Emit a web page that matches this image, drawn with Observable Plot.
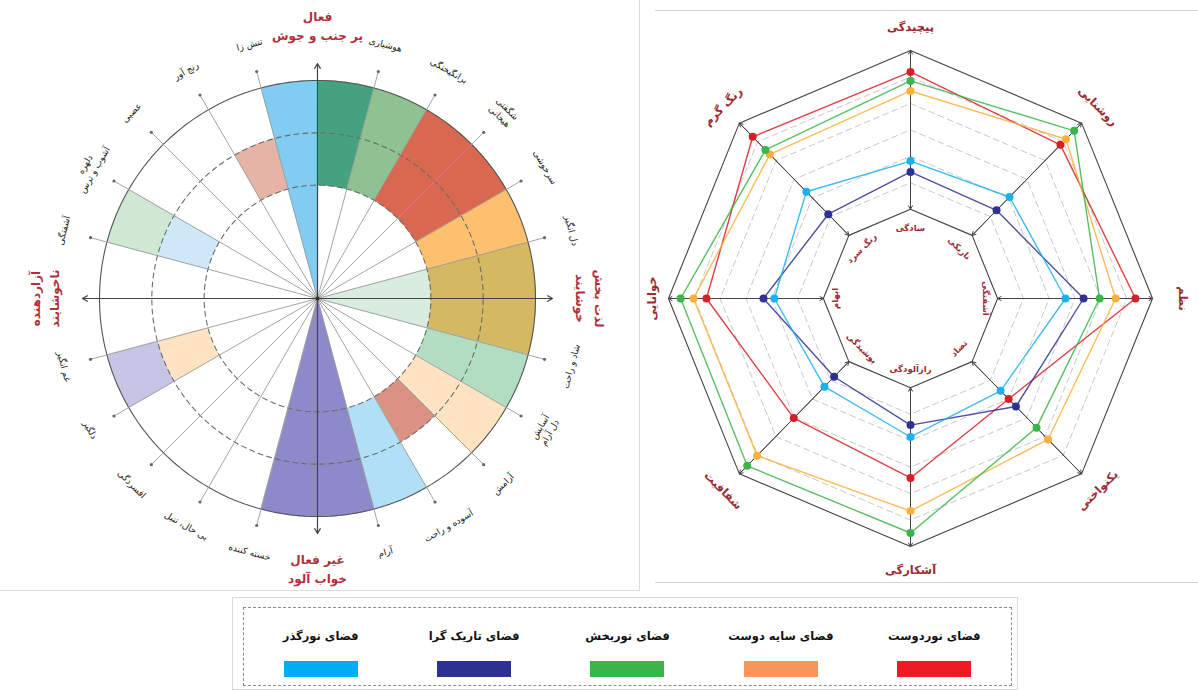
<!DOCTYPE html>
<html><head><meta charset="utf-8">
<script src="https://cdn.jsdelivr.net/npm/d3@7"></script>
<script src="https://cdn.jsdelivr.net/npm/@observablehq/plot@0.6"></script>
<style>
body{margin:0;background:#fff;font-family:"DejaVu Sans",sans-serif;}
#wrap{position:relative;width:1198px;height:690px;overflow:hidden;background:#fff;}
#left{position:absolute;left:0;top:0;}
#right{position:absolute;left:620px;top:0;}
.frameL{position:absolute;left:0;top:0;width:640px;height:591px;border-right:1px solid #dcdcdc;border-bottom:1px solid #dcdcdc;box-sizing:border-box;}
.frameR{position:absolute;left:655px;top:10px;width:543px;height:573px;border-top:1px solid #d6d6d6;border-bottom:1px solid #d6d6d6;box-sizing:border-box;}
#legOuter{position:absolute;left:232px;top:597px;width:786px;height:93px;border:1px solid #d8d8d8;box-sizing:border-box;}
#legend{position:absolute;left:243px;top:607px;width:769px;height:79px;border:1px dashed #8a8a8a;box-sizing:border-box;display:flex;direction:rtl;}
.item{width:155px;display:flex;flex-direction:column;align-items:center;padding-top:20px;}
.item span{font-weight:bold;font-size:11.5px;line-height:16px;height:16px;color:#111;white-space:nowrap;}
.item i{display:block;width:74px;height:16px;margin-top:17px;}
svg text{direction:rtl;unicode-bidi:plaintext;}
</style></head>
<body><div id="wrap">
<div class="frameL"></div><div class="frameR"></div>
<div id="left"></div><div id="right"></div>
<div id="legOuter"></div><div id="legend"></div>
</div>
<script>
// ---------------- DATA: left chart (affect circumplex) ----------------
const spokeAngles = [15, 30, 45, 60, 75, 105, 120, 135, 150, 165, -165, -150, -135, -120, -105, -75, -60, -45, -30, -15];
const spokeLabels = ["دل انگیز", "سرخوشی", "شگفتی\nهیجانی", "برانگیختگی", "هوشیاری", "تنش زا", "رنج آور", "عصبی", "دلهره\nآشوب و ترس", "آشفتگی", "غم انگیز", "دلگیر", "افسردگی", "بی حال، تنبل", "خسته کننده", "آرام", "آسوده و راحت", "آرامش", "آسایش\nدل آرام", "شاد و راحت"];
const axisAngles = [90, 0, -90, 180];
const axisLabels = ["فعال\nپر جنب و جوش", "لذت بخش\nخوشایند", "غیر فعال\nخواب آلود", "آزاردهنده\nناخوشایند"];
const ringLevels = [0, 0.52, 0.76, 1];
const sectorStart = [75, 60, 30, 15, -15, -15, -30, -45, -60, -75, -105, -165, -165, 150, 150, 105, 90];
const sectorEnd   = [90, 75, 60, 30, 15, 15, -15, -30, -45, -60, -75, -150, -150, 165, 165, 120, 105];
const sectorInner = [1, 1, 1, 1, 0, 1, 1, 1, 1, 1, 0, 1, 2, 1, 2, 1, 0];
const sectorOuter = [3, 3, 3, 3, 1, 3, 3, 3, 2, 3, 3, 2, 3, 2, 3, 2, 3];
const sectorColor = ["#45a27e", "#8fc193", "#d8684f", "#fcc06f", "#d8ede0", "#d5b862", "#b1dec3", "#fee3c2", "#da9282", "#b1dff6", "#8e8ac9", "#fee3c3", "#c7c5e6", "#cfe8f7", "#cfe8d4", "#e6b4a7", "#80cdf1"];

// ---------------- DATA: right chart (radar) ----------------
const radarAngles = [90, 45, 0, -45, -90, -135, 180, 135];
const radarOuterLabels = ["پیچیدگی", "روشنایی", "نظم", "یکنواختی", "آشکارگی", "شفافیت", "خوانایی", "رنگ گرم"];
const radarInnerLabels = ["سادگی", "تاریکی", "آشفتگی", "تضاد", "رازآلودگی", "پوشیدگی", "ابهام", "رنگ سرد"];
const scaleLevels = [1, 2, 3, 4, 5, 6, 7];
const seriesNames = ["فضای نوردوست", "فضای سایه دوست", "فضای نوربخش", "فضای تاریک گرا", "فضای نورگذر"];
const seriesColors = ["#d71f26", "#fbb03b", "#3cb44a", "#2e3192", "#1cb1ea"];
const legendColors = ["#ed1c24", "#f7965a", "#39b54a", "#2e3192", "#00aeef"];
const nurdust   = [6.19, 5.84, 6.34, 3.00, 4.41, 4.02, 5.53, 6.27];
const sayeDust  = [5.47, 6.14, 5.57, 5.16, 5.66, 6.03, 6.03, 5.33];
const nurbakhsh = [5.85, 6.59, 4.95, 4.53, 6.49, 6.57, 6.53, 5.57];
const tarikGera = [2.41, 2.34, 4.33, 3.40, 2.41, 1.81, 3.32, 2.13];
const nurgozar  = [2.82, 3.05, 3.63, 2.56, 2.86, 2.34, 2.90, 3.33];
const seriesValues = [nurdust, sayeDust, nurbakhsh, tarikGera, nurgozar];

// ---------------- helpers ----------------
const pol = (r, a) => ({x: r * Math.cos(a * Math.PI / 180), y: r * Math.sin(a * Math.PI / 180)});
const arc = (r, a0, a1, n) => d3.range(n + 1).map(k => pol(r, a0 + (a1 - a0) * k / n));
const rot = a => (a >= 0 ? 90 - a : -(a + 90));
const FONT = "'DejaVu Sans', sans-serif";
// split multi-line labels into separate single-line entries, stacked radially
function labelEntries(angles, labels, r0, gapPx, R) {
  const out = [];
  angles.forEach((a, i) => {
    const lines = labels[i].split("\n");
    const n = lines.length, sign = a >= 0 ? 1 : -1;
    lines.forEach((t, k) => {
      const off = ((n - 1) / 2 - k) * gapPx / R * sign;
      out.push({...pol(r0 + off, a), t, r: rot(a)});
    });
  });
  return out;
}

// ---------------- LEFT PLOT ----------------
{
  const W = 640, H = 592, CX = 317, CY = 298, R = 218;
  const sectorMarks = sectorStart.map((a0, i) => {
    const ro = ringLevels[sectorOuter[i]], ri = ringLevels[sectorInner[i]];
    const pts = arc(ro, a0, sectorEnd[i], 30).concat(ri > 0 ? arc(ri, sectorEnd[i], a0, 30) : [pol(0, 0)]);
    return Plot.line(pts, {x: "x", y: "y", curve: "linear-closed", fill: sectorColor[i], stroke: sectorColor[i], strokeWidth: 0.6});
  });
  const reach = 1.078;
  const spokeData = spokeAngles.map(a => ({x0: 0, y0: 0, ...pol(reach, a)}));
  const axisData = axisAngles.map(a => ({x0: 0, y0: 0, ...pol(reach, a)}));
  const spokeText = labelEntries(spokeAngles, spokeLabels, 1.205, 11, R);
  const axisText = labelEntries(axisAngles, axisLabels, 1.245, 19, R);
  const plot = Plot.plot({
    width: W, height: H, margin: 0,
    x: {domain: [-CX / R, (W - CX) / R], range: [0, W], axis: null},
    y: {domain: [-(H - CY) / R, CY / R], range: [H, 0], axis: null},
    style: {fontFamily: FONT, background: "transparent"},
    marks: [
      ...sectorMarks,
      Plot.line(arc(ringLevels[1], 0, 360, 240), {x: "x", y: "y", stroke: "#6b6b6b", strokeWidth: 1.1, strokeDasharray: "5,4"}),
      Plot.line(arc(ringLevels[2], 0, 360, 240), {x: "x", y: "y", stroke: "#6b6b6b", strokeWidth: 1.1, strokeDasharray: "5,4"}),
      Plot.line(arc(ringLevels[3], 0, 360, 240), {x: "x", y: "y", stroke: "#555", strokeWidth: 1.1}),
      Plot.link(spokeData, {x1: "x0", y1: "y0", x2: "x", y2: "y", stroke: "#9a9a9a", strokeWidth: 0.9}),
      Plot.dot(spokeData, {x: "x", y: "y", r: 1.6, fill: "#666", stroke: "none"}),
      Plot.arrow(axisData, {x1: "x0", y1: "y0", x2: "x", y2: "y", stroke: "#444", strokeWidth: 1.2, headLength: 7}),
      Plot.dot([pol(0, 0)], {x: "x", y: "y", r: 2, fill: "#333", stroke: "none"}),
      Plot.text(spokeText, {x: "x", y: "y", text: "t", rotate: "r", fontSize: 9, fill: "#222"}),
      Plot.text(axisText, {x: "x", y: "y", text: "t", rotate: "r", fontSize: 12, fontWeight: "bold", fill: "#b0303a"})
    ]
  });
  document.getElementById("left").appendChild(plot);
}

// ---------------- RIGHT PLOT ----------------
{
  const W = 578, H = 590, CX = 290, CY = 298, RX = 242, RY = 248;
  const rScale = d3.scaleLinear().domain([1, 7]).range([0.36, 1]);
  const octagon = v => radarAngles.map(a => pol(rScale(v), a));
  const axisSegs = radarAngles.map(a => {
    const i = pol(rScale(1), a), o = pol(rScale(7), a);
    return {xi: i.x, yi: i.y, xo: o.x, yo: o.y};
  });
  const seriesMarks = [];
  seriesValues.forEach((vals, s) => {
    const pts = radarAngles.map((a, j) => pol(rScale(vals[j]), a));
    seriesMarks.push(Plot.line(pts, {x: "x", y: "y", curve: "linear-closed", stroke: seriesColors[s], strokeWidth: 1.4, strokeOpacity: 0.85}));
  });
  seriesValues.forEach((vals, s) => {
    const pts = radarAngles.map((a, j) => pol(rScale(vals[j]), a));
    seriesMarks.push(Plot.dot(pts, {x: "x", y: "y", r: 4, fill: seriesColors[s], stroke: "none"}));
  });
  const outerR = a => (a === 180 ? 1.065 : a === 0 ? 1.125 : 1.095);
  const outerText = radarAngles.map((a, i) => ({...pol(outerR(a), a), t: radarOuterLabels[i], r: rot(a)}));
  const innerText = radarAngles.map((a, i) => ({...pol(a % 180 === 0 ? 0.31 : 0.285, a), t: radarInnerLabels[i], r: rot(a)}));
  const plot = Plot.plot({
    width: W, height: H, margin: 0,
    x: {domain: [-CX / RX, (W - CX) / RX], range: [0, W], axis: null},
    y: {domain: [-(H - CY) / RY, CY / RY], range: [H, 0], axis: null},
    style: {fontFamily: FONT, background: "transparent"},
    marks: [
      ...scaleLevels.slice(1, -1).map(v => Plot.line(octagon(v), {x: "x", y: "y", curve: "linear-closed", stroke: "#c8c8c8", strokeWidth: 1, strokeDasharray: "6,4"})),
      Plot.line(octagon(scaleLevels[scaleLevels.length - 1]), {x: "x", y: "y", curve: "linear-closed", stroke: "#444", strokeWidth: 1.1}),
      Plot.line(octagon(scaleLevels[0]), {x: "x", y: "y", curve: "linear-closed", stroke: "#444", strokeWidth: 1.1}),
      Plot.arrow(axisSegs, {x1: "xi", y1: "yi", x2: "xo", y2: "yo", stroke: "#444", strokeWidth: 1, headLength: 6}),
      Plot.arrow(axisSegs, {x1: "xo", y1: "yo", x2: "xi", y2: "yi", stroke: "#444", strokeWidth: 1, headLength: 6}),
      ...seriesMarks,
      Plot.text(outerText, {x: "x", y: "y", text: "t", rotate: "r", fontSize: 11.5, fontWeight: "bold", fill: "#9e2a30"}),
      Plot.text(innerText, {x: "x", y: "y", text: "t", rotate: "r", fontSize: 8.5, fontWeight: "bold", fill: "#9e2a30"})
    ]
  });
  document.getElementById("right").appendChild(plot);
}

// ---------------- LEGEND ----------------
{
  const leg = document.getElementById("legend");
  seriesNames.forEach((n, i) => {
    const d = document.createElement("div");
    d.className = "item";
    d.innerHTML = `<span dir="rtl">${n}</span><i style="background:${legendColors[i]}"></i>`;
    leg.appendChild(d);
  });
}
</script>
</body></html>
